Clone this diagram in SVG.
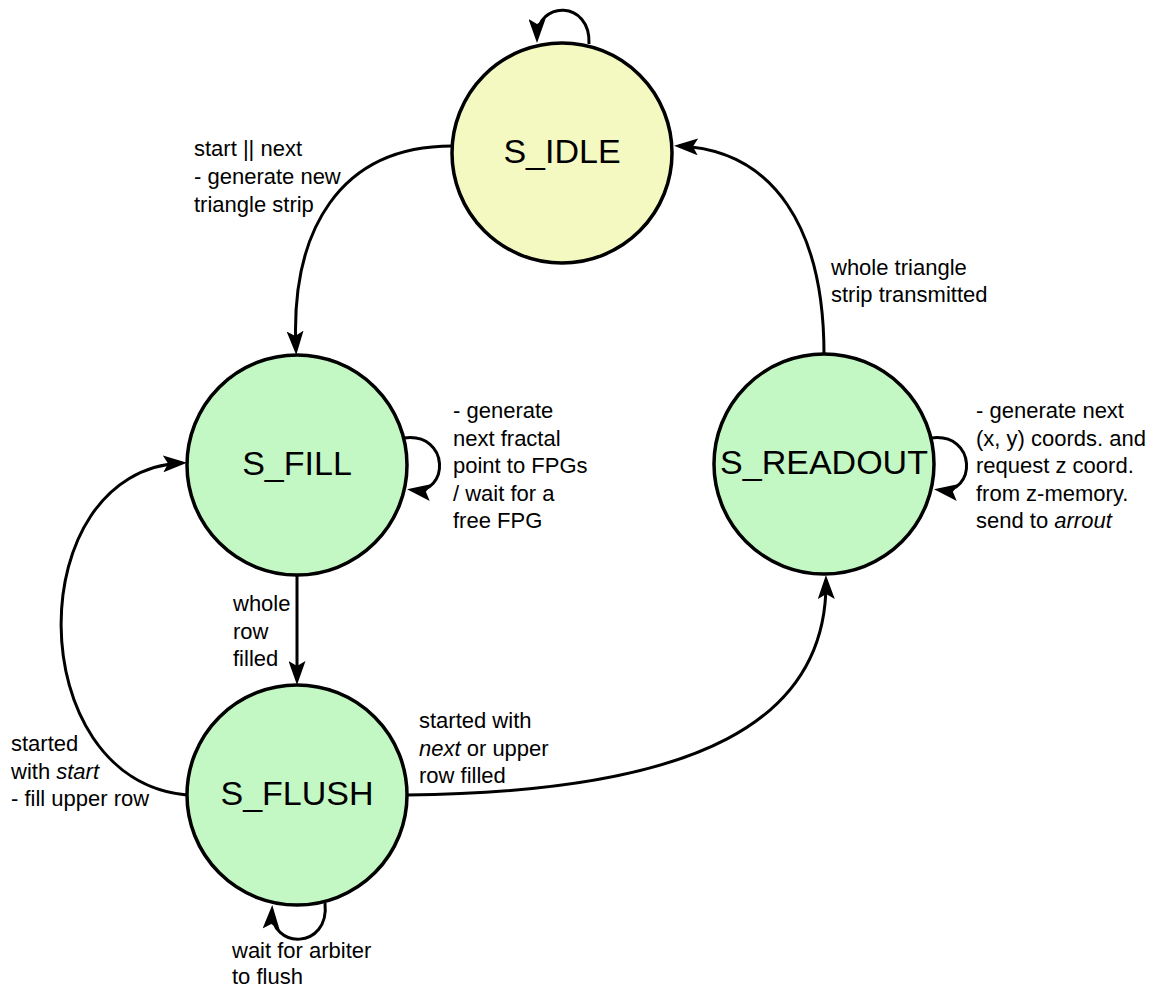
<svg xmlns="http://www.w3.org/2000/svg" width="1163" height="989" viewBox="0 0 1163 989">
  <style>
    .state { stroke: #000; stroke-width: 3.5; }
    .idle { fill: #f3f9c1; }
    .busy { fill: #c3f7c3; }
    .name { font-family: "Liberation Sans", Arial, sans-serif; font-size: 34px; fill: #000; text-anchor: middle; dominant-baseline: central; }
    .note { font-family: "Liberation Sans", Arial, sans-serif; font-size: 22px; fill: #000; }
    .edge { fill: none; stroke: #000; stroke-width: 3; marker-end: url(#arrow); }
  </style>
  <defs>
    <marker id="arrow" viewBox="0 0 24 17" refX="19" refY="8.5" markerWidth="24" markerHeight="17" orient="auto" markerUnits="userSpaceOnUse">
      <path d="M0,0 L24,8.5 L0,17 L5,8.5 Z" fill="#000"/>
    </marker>
  </defs>
  <rect width="1163" height="989" fill="#fff"/>

  <g id="connectors">
    <path class="edge" d="M452,146 C340,146 290,230 296,350"/>
    <path class="edge" d="M824,354 C824,230 775,150 679,146"/>
    <path class="edge" d="M297,576 L297,680"/>
    <path class="edge" d="M187,795 C20,780 20,470 182,463"/>
    <path class="edge" d="M407,795 C700,792 828,720 826,580"/>
    <path class="edge" d="M589,44 C591,0 537,0 537,38"/>
    <path class="edge" d="M404,438 C450,432 450,495 412,490"/>
    <path class="edge" d="M931,438 C977,432 977,495 939,490"/>
    <path class="edge" d="M325,903 C330,950 270,950 272,910"/>
  </g>

  <g id="s_idle">
    <circle class="state idle" cx="562" cy="153" r="110"/>
    <text class="name" x="562" y="151">S_IDLE</text>
  </g>
  <g id="s_fill">
    <circle class="state busy" cx="297" cy="465" r="110"/>
    <text class="name" x="297" y="463">S_FILL</text>
  </g>
  <g id="s_readout">
    <circle class="state busy" cx="824" cy="464" r="110"/>
    <text class="name" x="824" y="462">S_READOUT</text>
  </g>
  <g id="s_flush">
    <circle class="state busy" cx="297" cy="795" r="110"/>
    <text class="name" x="297" y="793">S_FLUSH</text>
  </g>

  <g id="labels">
    <text class="note" x="194" y="156">start || next<tspan x="194" dy="28">- generate new</tspan><tspan x="194" dy="28">triangle strip</tspan></text>
    <text class="note" x="831" y="275">whole triangle<tspan x="831" dy="27">strip transmitted</tspan></text>
    <text class="note" x="453" y="418">- generate<tspan x="453" dy="27.5">next fractal</tspan><tspan x="453" dy="27.5">point to FPGs</tspan><tspan x="453" dy="27.5">/ wait for a</tspan><tspan x="453" dy="27.5">free FPG</tspan></text>
    <text class="note" x="976" y="418">- generate next<tspan x="976" dy="27.5">(x, y) coords. and</tspan><tspan x="976" dy="27.5">request z coord.</tspan><tspan x="976" dy="27.5">from z-memory.</tspan><tspan x="976" dy="27.5">send to <tspan font-style="italic">arrout</tspan></tspan></text>
    <text class="note" x="233" y="611">whole<tspan x="233" dy="27.5">row</tspan><tspan x="233" dy="27.5">filled</tspan></text>
    <text class="note" x="419" y="728"><tspan>started with</tspan><tspan x="419" dy="27.5" font-style="italic">next</tspan><tspan> or upper</tspan><tspan x="419" dy="27.5">row filled</tspan></text>
    <text class="note" x="11" y="751">started<tspan x="11" dy="27.5">with </tspan><tspan font-style="italic">start</tspan><tspan x="11" dy="27.5">- fill upper row</tspan></text>
    <text class="note" x="232" y="958">wait for arbiter<tspan x="232" dy="26">to flush</tspan></text>
  </g>
</svg>
